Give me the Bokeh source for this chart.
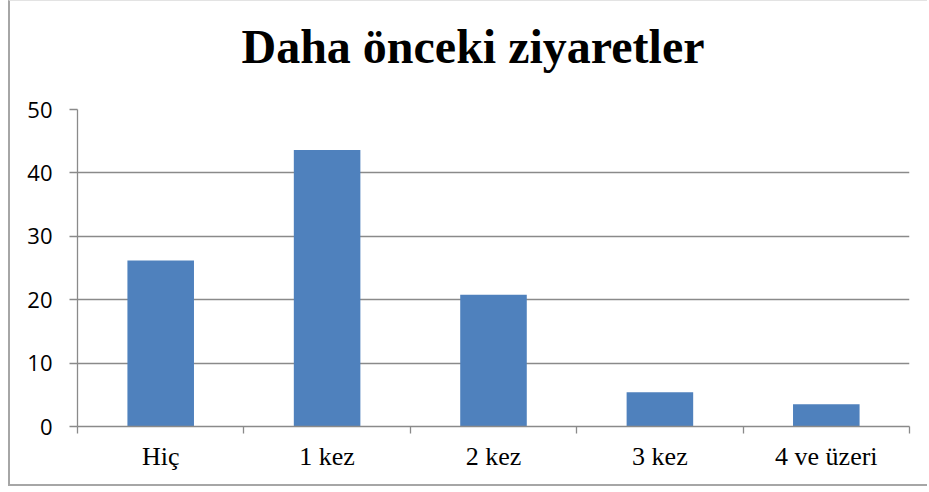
from bokeh.plotting import figure
from bokeh.models import FixedTicker, Range1d, ColumnDataSource, Title
from bokeh.embed import file_html
from bokeh.resources import INLINE

title_text = "Daha önceki ziyaretler"
categories = ["Hiç", "1 kez", "2 kez", "3 kez", "4 ve üzeri"]
values = [26.2, 43.6, 20.8, 5.4, 3.5]
y_ticks = [0, 10, 20, 30, 40, 50]

centers = [i + 0.5 for i in range(len(categories))]
boundaries = list(range(len(categories) + 1))

source = ColumnDataSource(data=dict(x=centers, top=values, cat=categories))

GRID = "#8a8a8a"

p = figure(width=919, height=486,
           x_range=Range1d(0, len(categories)), y_range=Range1d(0, 50),
           output_backend="svg", toolbar_location=None,
           min_border_left=67, min_border_right=20,
           min_border_top=108, min_border_bottom=61)

p.styles = {"margin-left": "8px",
            "border-left": "2px solid #a6a6a6",
            "border-bottom": "2px solid #a6a6a6",
            "border-top": "1px solid #e3e3e3"}

# spacer between the title and the plot frame (closest to the frame)
spacer = Title(text=" ", text_font_size="2px", standoff=33, text_color="white")
p.add_layout(spacer, "above")

main_title = Title(text=title_text, text_font="Liberation Serif",
                   text_font_size="48px", text_font_style="bold",
                   text_color="black", align="left", offset=164, standoff=0)
p.add_layout(main_title, "above")

p.vbar(x="x", top="top", bottom=0, width=0.4, source=source,
       fill_color="#4F81BD", line_color=None)

p.outline_line_color = None
p.xgrid.visible = False
p.ygrid.grid_line_color = GRID
p.ygrid.grid_line_width = 1.3

# x axis
xa = p.xaxis[0]
xa.ticker = FixedTicker(ticks=centers, minor_ticks=boundaries)
xa.major_label_overrides = {c: lab for c, lab in zip(centers, categories)}
xa.major_tick_in = 0
xa.major_tick_out = 0
xa.minor_tick_in = 0
xa.minor_tick_out = 7
xa.minor_tick_line_color = GRID
xa.minor_tick_line_width = 1.3
xa.axis_line_color = GRID
xa.axis_line_width = 1.3
xa.major_label_text_font = "Liberation Serif"
xa.major_label_text_font_size = "26px"
xa.major_label_text_color = "black"
xa.major_label_standoff = 8

# y axis
ya = p.yaxis[0]
ya.ticker = FixedTicker(ticks=y_ticks, minor_ticks=[])
ya.major_tick_in = 0
ya.major_tick_out = 8
ya.major_tick_line_color = GRID
ya.major_tick_line_width = 1.3
ya.minor_tick_line_color = None
ya.axis_line_color = GRID
ya.axis_line_width = 1.3
ya.major_label_text_font = "Open Sans"
ya.major_label_text_font_size = "22px"
ya.major_label_text_color = "black"
ya.major_label_standoff = 17

open("out.html", "w").write(file_html(p, INLINE))
